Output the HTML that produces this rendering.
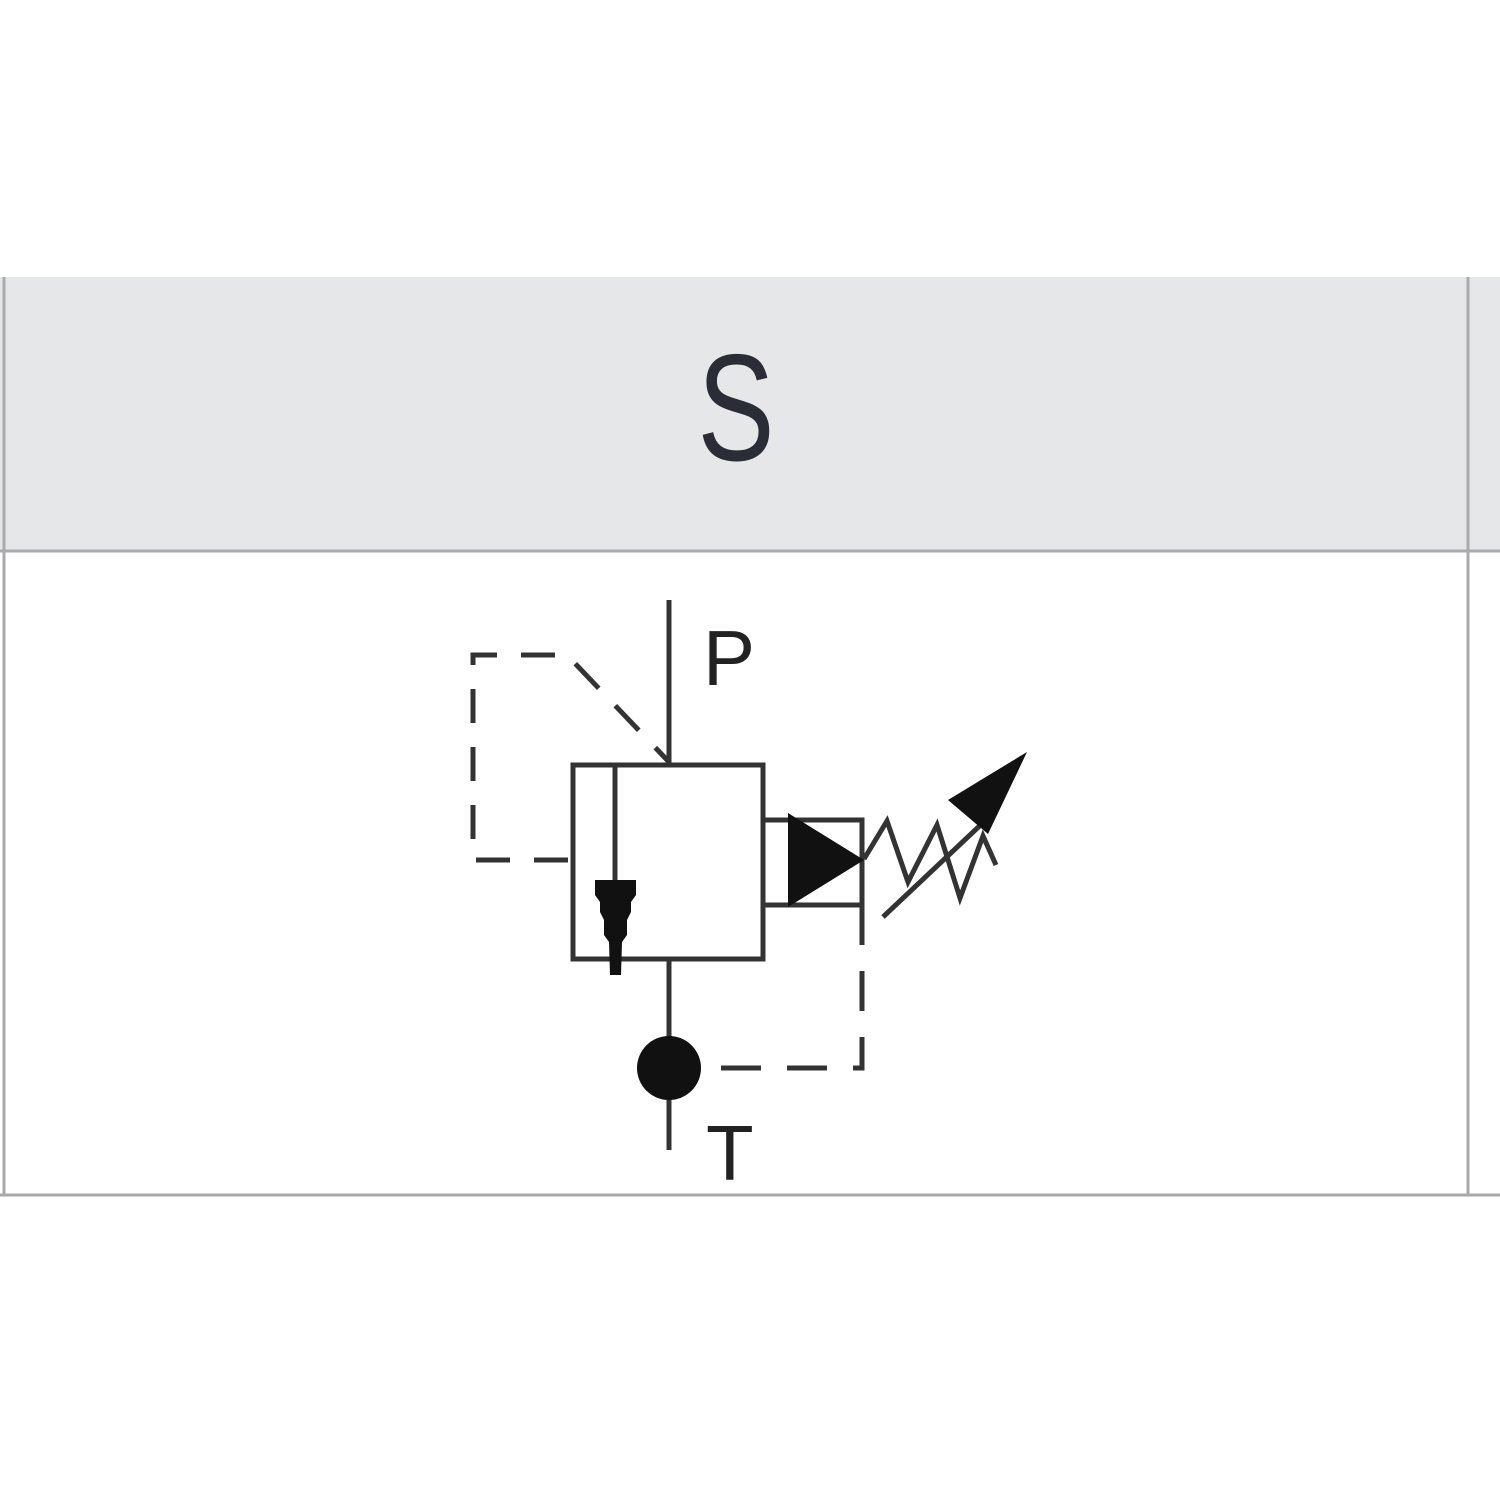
<!DOCTYPE html>
<html><head><meta charset="utf-8"><style>
html,body{margin:0;padding:0;background:#fff;}
body{width:1500px;height:1500px;overflow:hidden;position:relative;font-family:"Liberation Sans",sans-serif;}
</style></head><body>
<svg width="1500" height="1500" viewBox="0 0 1500 1500" style="position:absolute;left:0;top:0">
<rect x="0" y="277" width="1500" height="274" fill="#e6e7e9"/>
<g stroke="#a9aaac" stroke-width="3" fill="none">
<line x1="4" y1="277" x2="4" y2="1196"/>
<line x1="1468" y1="277" x2="1468" y2="1196"/>
<line x1="0" y1="551" x2="1500" y2="551"/>
<line x1="0" y1="1195" x2="1500" y2="1195"/>
</g>
<text transform="translate(736,460) scale(0.76,1)" text-anchor="middle" font-family="Liberation Sans, sans-serif" font-size="152" fill="#2a2d35">S</text>
<g stroke="#333" stroke-width="5" fill="none">
<rect x="573" y="765" width="190" height="194"/>
<line x1="669" y1="600" x2="669" y2="765"/>
<line x1="669" y1="959" x2="669" y2="1150"/>
<line x1="615" y1="765" x2="615" y2="900"/>
<polyline points="763,820 862,820 862,905 763,905"/>
<path d="M568,860 H473 V655 H567 L669,762" stroke-dasharray="34,24"/>
<path d="M862,905 V1068 H700" stroke-dasharray="40,26"/>
<polyline points="864,859 887,821 908,882 937,825 960,898 983,836 996,865"/>
<line x1="883" y1="917" x2="988" y2="818"/>
</g>
<g fill="#111">
<polygon points="595,880 636,880 636,895 631,902 631,912 627,920 627,935 622,942 621,975 610,975 609,942 604,935 604,920 600,912 600,902 595,895"/>
<polygon points="788,813 864,860 788,907"/>
<polygon points="1027,752 948,800 988,834"/>
<circle cx="669" cy="1068" r="32"/>
</g>
<text x="703" y="685" font-family="Liberation Sans, sans-serif" font-size="78" fill="#222">P</text>
<text x="706" y="1180" font-family="Liberation Sans, sans-serif" font-size="78" fill="#222">T</text>
</svg>
</body></html>
